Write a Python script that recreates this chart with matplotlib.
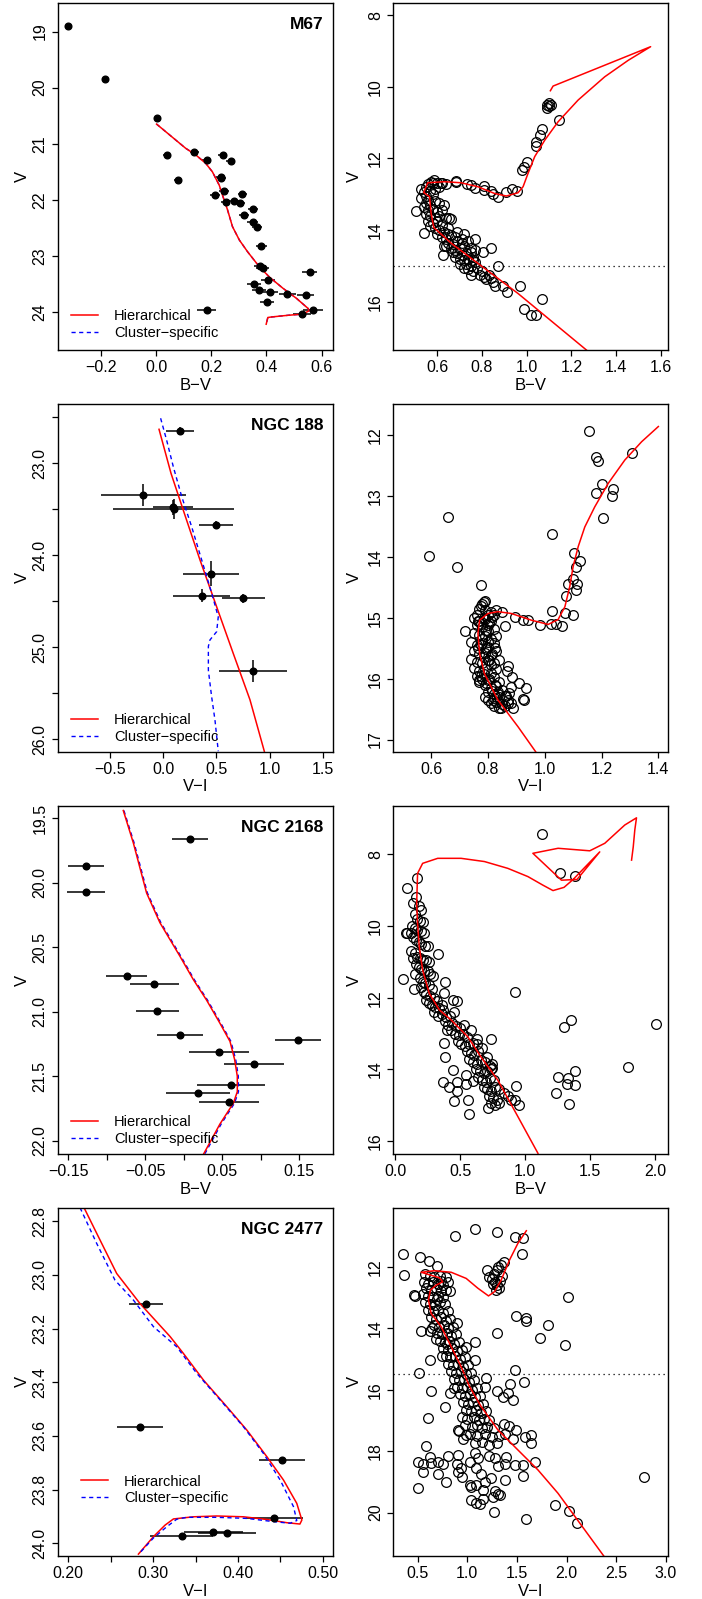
import matplotlib
matplotlib.use("Agg")
import matplotlib.pyplot as plt

plt.rcParams['font.family'] = ['Liberation Sans', 'DejaVu Sans']
plt.rcParams['axes.unicode_minus'] = True

MINUS = "\u2212"

# ---------------- M67 ----------------
m67_bv = [-0.319, -0.183, 0.005, 0.041, 0.078, 0.139, 0.183, 0.242, 0.270, 0.234, 0.237, 0.214,
          0.246, 0.252, 0.282, 0.304, 0.313, 0.318, 0.350, 0.350, 0.366, 0.381, 0.378, 0.386,
          0.557, 0.354, 0.405, 0.374, 0.414, 0.476, 0.542, 0.402, 0.183, 0.567, 0.529]
m67_v = [18.90, 19.85, 20.54, 21.21, 21.65, 21.15, 21.29, 21.21, 21.30, 21.59, 21.62, 21.91,
         21.84, 22.04, 22.02, 22.05, 21.90, 22.27, 22.17, 22.40, 22.49, 22.82, 23.18, 23.21,
         23.29, 23.50, 23.44, 23.61, 23.64, 23.68, 23.69, 23.83, 23.97, 23.97, 24.04]
m67_xerr = [0.012, 0.012, 0.014, 0.014, 0.014, 0.015, 0.016, 0.016, 0.016, 0.016, 0.016, 0.017,
            0.017, 0.017, 0.018, 0.018, 0.017, 0.018, 0.018, 0.019, 0.019, 0.020, 0.022, 0.024,
            0.027, 0.025, 0.025, 0.025, 0.026, 0.030, 0.030, 0.025, 0.033, 0.036, 0.034]
m67_yerr = [0.02] * len(m67_v)
m67_hier_x = [0.002, 0.107, 0.144, 0.180, 0.204, 0.229, 0.243, 0.259, 0.277, 0.302, 0.332, 0.375,
              0.411, 0.460, 0.509, 0.551, 0.555, 0.530, 0.480, 0.420, 0.405, 0.399]
m67_hier_v = [20.65, 21.08, 21.20, 21.35, 21.50, 21.74, 21.95, 22.18, 22.48, 22.72, 22.93, 23.20,
              23.38, 23.58, 23.76, 23.94, 23.98, 24.04, 24.06, 24.09, 24.10, 24.22]
m67_iso_bv = [1.267, 0.961, 0.782, 0.663, 0.585, 0.573, 0.566, 0.540, 0.558, 0.633, 0.707, 0.782,
              0.857, 0.909, 0.961, 0.984, 1.006, 1.036, 1.081, 1.140, 1.230, 1.349, 1.454, 1.554,
              1.118, 1.106]
m67_iso_v = [17.35, 15.77, 14.93, 14.37, 13.93, 13.53, 13.07, 12.95, 12.68, 12.65, 12.68, 12.79,
             12.98, 13.05, 12.96, 12.79, 12.42, 11.95, 11.49, 10.98, 10.37, 9.72, 9.26, 8.88,
             9.98, 10.11]
m67_star_bv = [1.09, 1.10, 1.11, 1.10, 1.09, 1.143, 1.070, 1.061, 1.043, 1.043, 1.001, 0.987, 0.979,
               0.958, 0.936, 0.909, 0.872, 0.849, 0.842, 0.809, 0.809, 0.770, 0.752, 0.734, 0.682,
               0.682, 0.618, 0.588, 0.573, 0.507, 0.543, 0.655, 0.770, 0.842, 0.804, 0.625, 0.872,
               0.972, 0.913, 0.894, 1.069, 0.990, 1.021, 1.040,
               0.53, 0.55, 0.56, 0.58, 0.60, 0.62, 0.64, 0.54, 0.55, 0.53, 0.56, 0.58, 0.57, 0.59,
               0.61, 0.55, 0.57, 0.59, 0.61, 0.63, 0.54, 0.56, 0.58, 0.60, 0.62, 0.55, 0.57, 0.59,
               0.61, 0.64, 0.56, 0.58, 0.60, 0.62, 0.57, 0.59, 0.61, 0.63, 0.65, 0.60, 0.62, 0.64,
               0.66, 0.68, 0.65, 0.67, 0.69, 0.71, 0.66, 0.68, 0.70, 0.72, 0.69, 0.71, 0.73, 0.75,
               0.70, 0.72, 0.74, 0.76, 0.73, 0.75, 0.77, 0.72, 0.74, 0.76, 0.78, 0.80, 0.75, 0.79,
               0.81, 0.83, 0.82, 0.84, 0.85, 0.86, 0.70, 0.68, 0.64, 0.66, 0.65, 0.63, 0.69, 0.72,
               0.71, 0.74, 0.75, 0.77, 0.76, 0.67]
m67_star_v = [10.50, 10.55, 10.52, 10.45, 10.58, 10.93, 11.19, 11.35, 11.53, 11.65, 12.09, 12.23,
              12.33, 12.90, 12.85, 12.93, 13.07, 12.99, 12.90, 12.76, 12.87, 12.84, 12.73, 12.71,
              12.63, 12.67, 12.68, 12.60, 12.65, 13.46, 14.09, 13.67, 14.25, 14.49, 14.62, 14.70,
              15.00, 15.55, 15.73, 15.55, 15.93, 16.20, 16.37, 16.37,
              12.85, 12.80, 12.72, 12.70, 12.68, 12.70, 12.72, 12.95, 13.05, 13.10, 13.15, 13.00,
              12.90, 12.85, 12.80, 13.25, 13.30, 13.20, 13.25, 13.30, 13.35, 13.45, 13.40, 13.50,
              13.45, 13.55, 13.60, 13.65, 13.60, 13.65, 13.75, 13.80, 13.75, 13.85, 13.90, 13.95,
              14.00, 14.05, 14.10, 14.10, 14.20, 14.25, 14.15, 14.20, 14.35, 14.40, 14.30, 14.35,
              14.50, 14.55, 14.50, 14.45, 14.65, 14.70, 14.65, 14.60, 14.80, 14.85, 14.80, 14.75,
              14.95, 15.00, 14.90, 15.05, 15.10, 15.15, 15.05, 15.15, 15.25, 15.25, 15.30, 15.25,
              15.38, 15.35, 15.45, 15.55, 14.95, 14.75, 14.45, 13.70, 13.95, 14.45, 14.05, 14.10,
              14.25, 14.30, 14.50, 14.55, 14.85, 14.60]

# ---------------- NGC 188 ----------------
n188_vi = [0.158, -0.186, 0.099, 0.090, 0.497, 0.450, 0.362, 0.754, 0.845]
n188_v = [22.645, 23.344, 23.50, 23.48, 23.667, 24.203, 24.438, 24.467, 25.26]
n188_xerr = [0.135, 0.40, 0.57, 0.19, 0.157, 0.263, 0.27, 0.20, 0.32]
n188_yerr = [0.045, 0.12, 0.11, 0.08, 0.04, 0.136, 0.07, 0.05, 0.12]
n188_hier_x = [-0.039, 0.074, 0.221, 0.346, 0.503, 0.660, 0.816, 0.951]
n188_hier_v = [22.63, 23.11, 23.62, 24.05, 24.56, 25.07, 25.57, 26.13]
n188_clus_x = [-0.024, 0.033, 0.096, 0.174, 0.268, 0.362, 0.456, 0.518, 0.503, 0.440, 0.425,
               0.425, 0.456, 0.487, 0.518]
n188_clus_v = [22.51, 22.75, 23.04, 23.36, 23.69, 24.05, 24.41, 24.67, 24.83, 24.92, 24.99,
               25.25, 25.54, 25.79, 26.13]
n188_iso_vi = [0.968, 0.906, 0.835, 0.788, 0.771, 0.765, 0.771, 0.800, 0.835, 0.882, 0.953, 1.012,
               1.047, 1.071, 1.088, 1.100, 1.118, 1.141, 1.176, 1.224, 1.282, 1.341, 1.400]
n188_iso_v = [17.20, 16.79, 16.35, 15.92, 15.59, 15.26, 15.04, 14.93, 14.90, 14.93, 15.04, 15.11,
              15.03, 14.82, 14.49, 14.16, 13.83, 13.51, 13.18, 12.79, 12.41, 12.11, 11.86]
n188_star_vi = [0.594, 0.660, 0.692, 0.776, 1.156, 1.180, 1.186, 1.200, 1.180, 1.241, 1.238, 1.204,
                1.306, 1.025, 1.104, 1.124, 1.109, 1.099, 1.112, 1.082, 1.109, 1.076, 1.071, 1.099,
                1.024, 1.021, 1.062, 1.038, 0.982, 0.941, 0.924, 0.894, 0.861, 0.718, 0.788, 0.776,
                0.871, 0.868, 0.886, 0.909, 0.935, 0.880, 0.876, 0.924, 0.927, 0.888, 0.847, 0.871,
                0.865, 0.835, 0.818, 0.768,
                0.78, 0.79, 0.77, 0.79, 0.81, 0.83, 0.85, 0.80, 0.82, 0.76, 0.75, 0.77, 0.79, 0.81,
                0.76, 0.78, 0.80, 0.75, 0.77, 0.79, 0.81, 0.74, 0.76, 0.78, 0.80, 0.82, 0.75, 0.77,
                0.79, 0.81, 0.83, 0.74, 0.76, 0.78, 0.80, 0.82, 0.84, 0.75, 0.77, 0.79, 0.81, 0.83,
                0.76, 0.78, 0.80, 0.82, 0.84, 0.77, 0.79, 0.81, 0.83, 0.85, 0.80, 0.82, 0.84, 0.86,
                0.83, 0.85, 0.87, 0.84, 0.86, 0.88, 0.82, 0.80, 0.80, 0.82, 0.83, 0.81, 0.78,
                0.765, 0.775, 0.785, 0.795, 0.805, 0.815, 0.765, 0.775, 0.785, 0.795, 0.805, 0.815,
                0.825, 0.775, 0.785, 0.795, 0.805, 0.815, 0.825, 0.835, 0.79, 0.80, 0.81, 0.82]
n188_star_v = [13.99, 13.35, 14.17, 14.47, 11.93, 12.36, 12.42, 12.80, 12.95, 12.89, 13.00, 13.37,
               12.30, 13.62, 13.93, 14.07, 14.16, 14.37, 14.45, 14.45, 14.55, 14.65, 14.93, 14.95,
               14.89, 15.11, 15.13, 15.11, 15.12, 15.03, 15.04, 14.98, 15.13, 15.22, 14.74, 14.80,
               15.80, 15.87, 15.97, 16.07, 16.16, 16.14, 16.24, 16.34, 16.35, 16.49, 16.49, 16.40,
               16.28, 16.25, 16.35, 16.05,
               14.78, 14.72, 14.85, 14.88, 14.90, 14.88, 14.90, 14.95, 14.95, 14.95, 15.00, 15.05,
               15.02, 15.05, 15.12, 15.15, 15.12, 15.25, 15.28, 15.30, 15.35, 15.40, 15.45, 15.42,
               15.48, 15.42, 15.55, 15.60, 15.58, 15.62, 15.55, 15.68, 15.72, 15.75, 15.70, 15.75,
               15.70, 15.82, 15.88, 15.85, 15.90, 15.85, 15.95, 16.00, 16.02, 15.98, 16.05, 16.03,
               16.10, 16.15, 16.12, 16.18, 16.22, 16.25, 16.30, 16.28, 16.38, 16.42, 16.35, 16.48,
               16.45, 16.40, 16.45, 15.40, 15.22, 15.18, 15.30, 15.78, 15.35,
               15.05, 15.10, 15.00, 15.20, 15.08, 14.98, 15.50, 15.45, 15.65, 15.52, 15.70, 15.60,
               15.50, 15.95, 15.92, 16.08, 16.00, 16.20, 16.10, 16.22, 16.30, 16.35, 16.40, 16.32]

# ---------------- NGC 2168 ----------------
n2168_bv = [0.008, -0.127, -0.127, -0.0742, -0.0383, -0.0344, -0.0045, 0.1487, 0.0452, 0.0907,
            0.0617, 0.0184, 0.0591]
n2168_v = [19.66, 19.867, 20.069, 20.72, 20.787, 20.992, 21.18, 21.219, 21.31, 21.403, 21.571,
           21.633, 21.703]
n2168_xerr = [0.0234, 0.0238, 0.025, 0.027, 0.032, 0.028, 0.030, 0.030, 0.039, 0.039, 0.044,
              0.042, 0.039]
n2168_hier_x = [-0.0786, -0.0656, -0.0483, -0.031, -0.005, 0.0123, 0.0296, 0.047, 0.060, 0.066,
                0.0695, 0.0695, 0.0643, 0.047, 0.026]
n2168_hier_v = [19.44, 19.69, 20.08, 20.31, 20.57, 20.75, 20.91, 21.09, 21.23, 21.37, 21.50,
                21.62, 21.71, 21.87, 22.10]
n2168_clus_x = [-0.0778, -0.0646, -0.0472, -0.0298, -0.0038, 0.0135, 0.0308, 0.0482, 0.0612,
                0.0674, 0.0708, 0.0710, 0.0658, 0.0486, 0.0275]
n2168_iso_bv = [1.099, 0.945, 0.790, 0.660, 0.559, 0.430, 0.340, 0.262, 0.211, 0.185, 0.172,
                0.165, 0.172, 0.211, 0.327, 0.507, 0.687, 0.867, 1.022, 1.138, 1.215, 1.300,
                1.370, 1.575, 1.400, 1.280, 1.060, 1.254, 1.498, 1.614, 1.768, 1.858, 1.845,
                1.833, 1.820]
n2168_iso_v = [16.34, 15.32, 14.30, 13.65, 13.09, 12.62, 12.34, 11.88, 11.23, 10.58, 9.93, 9.37,
               8.53, 8.25, 8.11, 8.11, 8.20, 8.39, 8.62, 8.86, 9.01, 8.92, 8.70, 7.93, 8.70,
               8.72, 7.97, 7.83, 7.90, 7.69, 7.18, 6.98, 7.32, 7.79, 8.16]
n2168_star_bv = [1.133, 1.272, 1.382, 0.921, 1.357, 1.300, 2.005, 1.789, 1.382, 1.254, 1.332,
                 1.319, 1.387, 1.241, 1.336, 0.062, 0.373, 0.383, 0.443, 0.365, 0.417, 0.476,
                 0.476, 0.456, 0.546, 0.546, 0.564, 0.566, 0.602, 0.929, 0.919, 0.952, 0.716,
                 0.739, 0.744, 0.744, 0.474, 0.448, 0.383, 0.378, 0.329, 0.088, 0.165, 0.082,
                 0.147,
                 0.16, 0.14, 0.18, 0.20, 0.15, 0.17, 0.19, 0.21, 0.13, 0.15, 0.17, 0.20, 0.22,
                 0.09, 0.12, 0.14, 0.16, 0.18, 0.20, 0.23, 0.25, 0.12, 0.15, 0.17, 0.19, 0.21,
                 0.24, 0.26, 0.14, 0.16, 0.18, 0.20, 0.22, 0.25, 0.27, 0.29, 0.15, 0.19, 0.21,
                 0.23, 0.26, 0.28, 0.20, 0.22, 0.24, 0.27, 0.30, 0.32, 0.24, 0.26, 0.28, 0.31,
                 0.34, 0.36, 0.30, 0.33, 0.36, 0.39, 0.42, 0.38, 0.41, 0.44, 0.47, 0.50, 0.43,
                 0.46, 0.49, 0.52, 0.55, 0.48, 0.51, 0.54, 0.57, 0.60, 0.63, 0.55, 0.58, 0.61,
                 0.64, 0.57, 0.60, 0.63, 0.66, 0.69, 0.62, 0.65, 0.68, 0.71, 0.74, 0.64, 0.67,
                 0.70, 0.73, 0.76, 0.68, 0.71, 0.74, 0.77, 0.80, 0.72, 0.75, 0.78, 0.74, 0.77,
                 0.80, 0.84, 0.87, 0.89, 0.63, 0.67, 0.71, 0.73, 0.58, 0.53, 0.37, 0.40, 0.45]
n2168_star_v = [7.42, 8.53, 8.59, 11.85, 12.62, 12.81, 12.73, 13.93, 14.04, 14.20, 14.25, 14.41,
                14.44, 14.65, 14.97, 11.48, 13.26, 13.65, 14.02, 14.34, 14.50, 14.36, 14.60,
                14.87, 14.41, 14.16, 14.86, 15.23, 14.32, 14.47, 14.86, 14.98, 15.07, 13.16,
                13.85, 13.95, 12.08, 12.07, 11.55, 11.86, 10.79, 8.95, 8.67, 10.19, 11.76,
                9.20, 9.35, 9.45, 9.55, 9.65, 9.80, 9.85, 9.90, 10.00, 10.05, 10.10, 10.15, 10.20,
                10.20, 10.20, 10.30, 10.40, 10.45, 10.50, 10.55, 10.55, 10.70, 10.75, 10.85,
                10.90, 10.95, 10.95, 11.00, 10.90, 11.05, 11.15, 11.20, 11.25, 11.25, 11.35,
                11.40, 11.35, 11.45, 11.55, 11.60, 11.65, 11.75, 11.70, 11.85, 11.90, 11.95,
                12.00, 12.10, 12.05, 12.15, 12.20, 12.25, 12.30, 12.20, 12.40, 12.50, 12.45,
                12.55, 12.50, 12.65, 12.75, 12.70, 12.80, 12.85, 12.90, 13.00, 13.05, 13.00,
                13.10, 13.20, 13.30, 13.35, 13.30, 13.25, 13.30, 13.50, 13.55, 13.60, 13.50,
                13.70, 13.80, 13.85, 13.75, 13.80, 14.00, 14.05, 14.10, 14.05, 14.00, 14.20,
                14.30, 14.35, 14.25, 14.30, 14.50, 14.55, 14.60, 14.50, 14.55, 14.75, 14.80,
                14.85, 14.95, 15.00, 14.95, 14.65, 14.75, 14.85, 13.15, 13.40, 13.65, 13.90,
                12.90, 12.75, 12.35, 12.90, 12.40]

# ---------------- NGC 2477 ----------------
n2477_vi = [0.2916, 0.2842, 0.452, 0.443, 0.371, 0.3868, 0.3337]
n2477_v = [23.108, 23.566, 23.689, 23.905, 23.957, 23.963, 23.973]
n2477_xerr = [0.0204, 0.027, 0.027, 0.0334, 0.035, 0.034, 0.037]
n2477_hier_x = [0.2185, 0.2354, 0.257, 0.2845, 0.320, 0.3357, 0.3593, 0.3868, 0.4104, 0.434,
                0.4536, 0.4693, 0.4753, 0.473, 0.4576, 0.434, 0.4065, 0.375, 0.3475, 0.3239,
                0.314, 0.3003, 0.2826]
n2477_hier_v = [22.75, 22.858, 22.995, 23.107, 23.23, 23.293, 23.392, 23.491, 23.578, 23.677,
                23.764, 23.851, 23.913, 23.928, 23.923, 23.911, 23.901, 23.898, 23.901, 23.909,
                23.932, 23.975, 24.04]
n2477_clus_x = [0.2138, 0.2334, 0.255, 0.2767, 0.3003, 0.3278, 0.3514, 0.379, 0.4065, 0.430,
                0.4497, 0.4654, 0.4693, 0.4615, 0.4418, 0.4104, 0.375, 0.3396, 0.3278, 0.316,
                0.3003, 0.2838]
n2477_clus_v = [22.75, 22.883, 23.02, 23.094, 23.193, 23.268, 23.367, 23.466, 23.566, 23.665,
                23.764, 23.863, 23.915, 23.925, 23.919, 23.907, 23.903, 23.903, 23.91, 23.938,
                23.98, 24.037]
n2477_iso_vi = [2.374, 2.182, 1.913, 1.711, 1.509, 1.308, 1.139, 1.022, 0.937, 0.837, 0.736,
                0.635, 0.608, 0.628, 0.685, 0.752, 0.719, 0.534, 0.668, 0.837, 0.988, 1.106,
                1.213, 1.274, 1.341, 1.425, 1.509, 1.594]
n2477_iso_v = [21.41, 20.56, 19.37, 18.61, 17.96, 17.31, 16.55, 15.90, 15.25, 14.60, 13.95,
               13.52, 13.08, 12.76, 12.60, 12.49, 12.36, 12.18, 12.13, 12.18, 12.38, 12.70,
               12.95, 12.81, 12.43, 11.78, 11.24, 10.83]
n2477_star_vi = [0.880, 1.072, 1.297, 1.476, 1.560, 1.553, 0.355, 0.358, 0.527, 0.618, 0.695,
                 0.460, 2.017, 1.486, 1.594, 1.594, 1.809, 1.735, 1.987, 1.301, 0.534, 0.897,
                 0.628, 0.517, 0.635, 0.779, 0.608, 1.476, 1.567, 1.425, 1.297, 1.408, 1.358,
                 1.459, 1.072, 0.988, 1.072, 1.190, 1.173, 1.365, 1.419, 1.493, 1.644, 1.644,
                 1.577, 1.459, 1.678, 1.560, 1.560, 2.778, 1.886, 2.021, 2.108, 1.587, 1.264,
                 0.904, 0.988,
                 0.584, 0.500, 0.551, 0.551, 0.628, 0.635, 0.702, 0.752, 0.709, 0.803, 0.786,
                 0.500, 0.904, 0.894, 0.937, 0.904, 0.944, 1.022, 1.079, 1.106, 1.089, 1.133,
                 1.022, 1.039, 1.089, 1.173, 1.156, 1.240, 1.213, 1.274, 1.308, 1.392, 1.382,
                 1.375, 1.274, 1.308, 1.257, 1.325, 1.156, 1.082, 1.123, 1.476, 1.039,
                 0.57, 0.62, 0.66, 0.72, 0.78, 0.56, 0.60, 0.65, 0.70, 0.75, 0.81, 0.58, 0.63,
                 0.68, 0.73, 0.78, 0.83, 0.55, 0.60, 0.65, 0.70, 0.75, 0.47, 0.57, 0.62, 0.67,
                 0.72, 0.77, 0.60, 0.65, 0.70, 0.75, 0.80, 0.63, 0.68, 0.73, 0.78, 0.83, 0.66,
                 0.71, 0.76, 0.81, 0.86, 0.69, 0.74, 0.79, 0.84, 0.89, 0.72, 0.77, 0.82, 0.87,
                 0.92, 0.75, 0.80, 0.85, 0.90, 0.95, 0.78, 0.83, 0.88, 0.93, 0.98, 0.81, 0.86,
                 0.91, 0.96, 1.01, 0.84, 0.89, 0.94, 0.99, 1.04, 0.87, 0.92, 0.97, 1.02, 1.07,
                 0.90, 0.95, 1.00, 1.05, 1.10, 0.93, 0.98, 1.03, 1.08, 1.13, 0.96, 1.01, 1.06,
                 1.11, 1.16, 0.99, 1.04, 1.09, 1.14, 1.19, 0.95, 1.00, 1.07, 1.12, 1.17, 1.22,
                 0.98, 1.05, 1.10, 1.15, 1.20, 1.27, 1.03, 1.10, 1.18, 1.25, 1.32, 1.38, 1.08,
                 1.15, 1.22, 0.92, 0.96, 1.30, 0.87, 0.83, 0.79, 0.68, 0.74, 0.73, 0.69, 0.64,
                 0.62,
                 1.20, 1.22, 1.25, 1.28, 1.30, 1.32, 1.27, 1.33, 1.35, 1.30, 1.34, 1.37, 1.31,
                 1.26, 1.29]
n2477_star_v = [11.00, 10.77, 10.86, 11.02, 11.08, 11.57, 11.60, 12.27, 11.67, 11.80, 11.98,
                12.92, 12.99, 13.60, 13.66, 13.77, 13.88, 14.31, 14.56, 14.14, 14.08, 13.84,
                15.03, 15.47, 16.04, 16.55, 16.91, 15.36, 15.74, 15.82, 16.04, 16.12, 16.25,
                16.32, 14.44, 14.60, 15.03, 15.61, 15.90, 17.13, 17.17, 17.31, 17.47, 17.72,
                17.53, 17.61, 18.36, 18.45, 18.80, 18.85, 19.75, 19.95, 20.33, 20.21, 19.97,
                17.31, 17.47,
                17.83, 18.34, 18.42, 18.67, 18.18, 18.40, 18.34, 18.42, 18.75, 18.16, 18.99,
                19.21, 18.12, 18.42, 18.56, 18.67, 18.83, 18.34, 18.05, 18.23, 18.56, 18.75,
                19.10, 19.16, 19.10, 18.99, 19.26, 18.88, 18.16, 18.23, 18.49, 18.18, 18.43,
                18.95, 19.30, 19.38, 19.49, 19.43, 19.54, 19.67, 19.71, 18.45, 19.60,
                12.25, 12.30, 12.35, 12.30, 12.35, 12.50, 12.55, 12.50, 12.55, 12.60, 12.50,
                12.70, 12.75, 12.70, 12.80, 12.75, 12.80, 12.90, 12.95, 13.00, 12.95, 13.00,
                12.95, 13.15, 13.20, 13.25, 13.15, 13.20, 13.40, 13.45, 13.40, 13.50, 13.45,
                13.65, 13.70, 13.65, 13.75, 13.70, 13.90, 13.95, 13.90, 14.00, 13.95, 14.15,
                14.20, 14.15, 14.25, 14.20, 14.40, 14.45, 14.40, 14.50, 14.45, 14.65, 14.70,
                14.65, 14.75, 14.70, 14.90, 14.95, 14.90, 15.00, 14.95, 15.15, 15.20, 15.15,
                15.25, 15.20, 15.40, 15.45, 15.40, 15.50, 15.45, 15.65, 15.70, 15.65, 15.75,
                15.70, 15.90, 15.95, 15.90, 16.00, 15.95, 16.15, 16.20, 16.15, 16.25, 16.20,
                16.40, 16.45, 16.40, 16.50, 16.45, 16.65, 16.70, 16.65, 16.75, 16.70, 16.90,
                16.95, 16.90, 17.00, 16.95, 17.00, 17.15, 17.20, 17.15, 17.25, 17.20, 17.25,
                17.45, 17.50, 17.45, 17.55, 17.50, 17.45, 17.75, 17.70, 17.80, 17.35, 17.60,
                17.75, 15.95, 16.10, 14.50, 14.35, 14.90, 12.45, 13.05, 14.00, 14.10,
                12.10, 12.35, 12.40, 12.50, 12.60, 12.70, 12.25, 12.45, 12.30, 12.10, 11.95,
                11.85, 12.00, 12.55, 12.75]

# ---------------- layout ----------------
fig = plt.figure(figsize=(7.02, 15.99), dpi=100)
LX, RX, W = 58 / 702, 393.3 / 702, 275 / 702
rows = [(3, 350), (404, 751.7), (806, 1154), (1207.7, 1556)]

TICK_FS = 11.5
LAB_FS = 12


def make_ax(col, row):
    top, bot = rows[row]
    x0 = LX if col == 0 else RX
    ax = fig.add_axes([x0, 1 - bot / 1599, W, (bot - top) / 1599])
    for s in ax.spines.values():
        s.set_linewidth(1.0)
    ax.tick_params(direction='out', length=4.3, width=0.9, labelsize=TICK_FS, pad=3.2)
    return ax, bot - top, col


def style(axinfo, xlim, ylim, xticks, xlabels, yticks, ylabels, xlabel):
    ax, h, col = axinfo
    ax.set_xlim(*xlim)
    ax.set_ylim(*ylim)
    ax.set_xticks(xticks)
    ax.set_xticklabels(xlabels)
    ax.set_yticks(yticks)
    ax.set_yticklabels(ylabels, rotation=90, va='center')
    ax.set_xlabel(xlabel, fontsize=LAB_FS, va='center')
    ax.xaxis.set_label_coords(0.5, -35 / h)
    ax.set_ylabel("V", fontsize=LAB_FS, va='center')
    ax.yaxis.set_label_coords(-0.128 if col == 0 else -0.141, 0.5)


def m(s):
    return s.replace("-", MINUS)


def legend(ax, x, y, handles=None, labels=None):
    kw = dict(loc='lower left', bbox_to_anchor=(x, y), frameon=False, fontsize=10.5,
              handlelength=1.85, handletextpad=1.1, labelspacing=0.2,
              borderpad=0, borderaxespad=0)
    if handles is None:
        ax.legend(**kw)
    else:
        ax.legend(handles, labels, **kw)


def title(ax, s):
    ax.text(0.964, 0.937, s, transform=ax.transAxes, ha='right', va='center',
            fontsize=12.5, fontweight='bold')


dash = (0, (3, 2.5))
circ = dict(ls='none', marker='o', mfc='none', mec='black', ms=7, mew=0.9)
ebar = dict(fmt='o', color='black', ms=4.8, elinewidth=1.1, capsize=0)
HIER = "Hierarchical"
CLUS = "Cluster" + MINUS + "specific"

# M67 left
info = make_ax(0, 0)
ax = info[0]
ax.errorbar(m67_bv, m67_v, xerr=m67_xerr, yerr=m67_yerr, **ebar)
lb, = ax.plot(m67_hier_x, m67_hier_v, color='blue', ls=dash, lw=1)
lr, = ax.plot(m67_hier_x, m67_hier_v, color='red', lw=1.1)
legend(ax, 0.047, 0.028, [lr, lb], [HIER, CLUS])
style(info, (-0.355, 0.641), (24.68, 18.49), [-0.2, 0, 0.2, 0.4, 0.6],
      [m("-0.2"), "0.0", "0.2", "0.4", "0.6"], [19, 20, 21, 22, 23, 24],
      ["19", "20", "21", "22", "23", "24"], "B" + MINUS + "V")
title(ax, "M67")

# M67 right
info = make_ax(1, 0)
ax = info[0]
ax.plot(m67_star_bv, m67_star_v, **circ)
ax.plot(m67_iso_bv, m67_iso_v, color='red', lw=1.1)
ax.axhline(15, color='black', ls=(0, (1, 3)), lw=0.9)
style(info, (0.404, 1.633), (17.35, 7.66), [0.6, 0.8, 1.0, 1.2, 1.4, 1.6],
      ["0.6", "0.8", "1.0", "1.2", "1.4", "1.6"], [8, 10, 12, 14, 16],
      ["8", "10", "12", "14", "16"], "B" + MINUS + "V")

# NGC 188 left
info = make_ax(0, 1)
ax = info[0]
ax.errorbar(n188_vi, n188_v, xerr=n188_xerr, yerr=n188_yerr, **ebar)
ax.plot(n188_hier_x, n188_hier_v, color='red', lw=1.1, label=HIER)
ax.plot(n188_clus_x, n188_clus_v, color='blue', ls=dash, lw=1, label=CLUS)
legend(ax, 0.047, 0.022)
style(info, (-0.989, 1.597), (26.135, 22.355), [-0.5, 0, 0.5, 1.0, 1.5],
      [m("-0.5"), "0.0", "0.5", "1.0", "1.5"],
      [22.5, 23, 23.5, 24, 24.5, 25, 25.5, 26],
      ["", "23.0", "", "24.0", "", "25.0", "", "26.0"], "V" + MINUS + "I")
title(ax, "NGC 188")

# NGC 188 right
info = make_ax(1, 1)
ax = info[0]
ax.plot(n188_star_vi, n188_star_v, **circ)
ax.plot(n188_iso_vi, n188_iso_v, color='red', lw=1.1)
style(info, (0.467, 1.435), (17.2, 11.49), [0.6, 0.8, 1.0, 1.2, 1.4],
      ["0.6", "0.8", "1.0", "1.2", "1.4"], [12, 13, 14, 15, 16, 17],
      ["12", "13", "14", "15", "16", "17"], "V" + MINUS + "I")

# NGC 2168 left
info = make_ax(0, 2)
ax = info[0]
ax.errorbar(n2168_bv, n2168_v, xerr=n2168_xerr, **ebar)
lb, = ax.plot(n2168_clus_x, n2168_hier_v, color='blue', ls=dash, lw=1)
lr, = ax.plot(n2168_hier_x, n2168_hier_v, color='red', lw=1.1)
legend(ax, 0.047, 0.022, [lr, lb], [HIER, CLUS])
style(info, (-0.1634, 0.1938), (22.103, 19.405),
      [-0.15, -0.10, -0.05, 0, 0.05, 0.10, 0.15],
      [m("-0.15"), "", m("-0.05"), "", "0.05", "", "0.15"],
      [19.5, 20, 20.5, 21, 21.5, 22], ["19.5", "20.0", "20.5", "21.0", "21.5", "22.0"],
      "B" + MINUS + "V")
title(ax, "NGC 2168")

# NGC 2168 right
info = make_ax(1, 2)
ax = info[0]
ax.plot(n2168_star_bv, n2168_star_v, **circ)
ax.plot(n2168_iso_bv, n2168_iso_v, color='red', lw=1.1)
style(info, (-0.015, 2.103), (16.36, 6.65), [0, 0.5, 1.0, 1.5, 2.0],
      ["0.0", "0.5", "1.0", "1.5", "2.0"], [8, 10, 12, 14, 16],
      ["8", "10", "12", "14", "16"], "B" + MINUS + "V")

# NGC 2477 left
info = make_ax(0, 3)
ax = info[0]
ax.errorbar(n2477_vi, n2477_v, xerr=n2477_xerr, **ebar)
ax.plot(n2477_hier_x, n2477_hier_v, color='red', lw=1.1, label=HIER)
ax.plot(n2477_clus_x, n2477_clus_v, color='blue', ls=dash, lw=1, label=CLUS)
legend(ax, 0.084, 0.145)
style(info, (0.1878, 0.512), (24.047, 22.75),
      [0.20, 0.25, 0.30, 0.35, 0.40, 0.45, 0.50],
      ["0.20", "", "0.30", "", "0.40", "", "0.50"],
      [22.8, 23.0, 23.2, 23.4, 23.6, 23.8, 24.0],
      ["22.8", "23.0", "23.2", "23.4", "23.6", "23.8", "24.0"], "V" + MINUS + "I")
title(ax, "NGC 2477")

# NGC 2477 right
info = make_ax(1, 3)
ax = info[0]
ax.plot(n2477_star_vi, n2477_star_v, **circ)
ax.plot(n2477_iso_vi, n2477_iso_v, color='red', lw=1.1)
ax.axhline(15.5, color='black', ls=(0, (1, 3)), lw=0.9)
style(info, (0.254, 3.024), (21.41, 10.08), [0.5, 1.0, 1.5, 2.0, 2.5, 3.0],
      ["0.5", "1.0", "1.5", "2.0", "2.5", "3.0"], [12, 14, 16, 18, 20],
      ["12", "14", "16", "18", "20"], "V" + MINUS + "I")

fig.savefig("out.png", dpi=100)
